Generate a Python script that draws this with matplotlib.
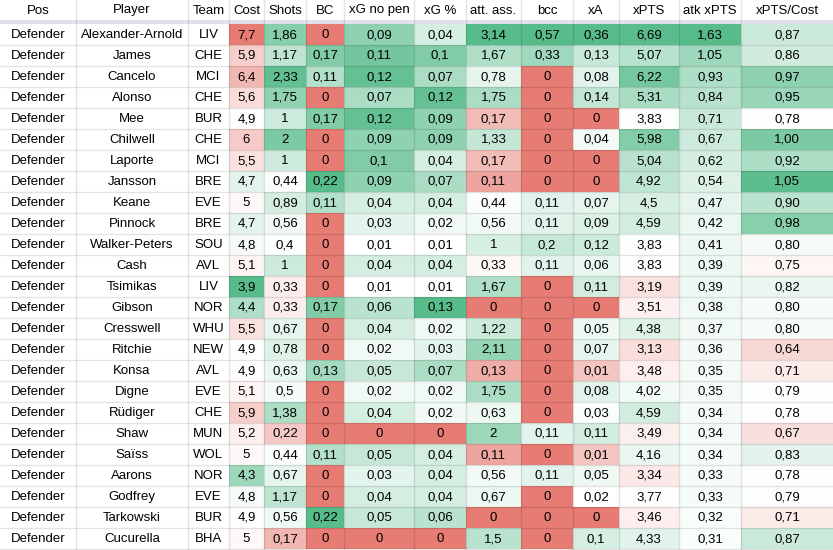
import matplotlib
matplotlib.use("Agg")
import matplotlib.pyplot as plt
from matplotlib.patches import Rectangle
import numpy as np

# ---------------- data ----------------
headers = ["Pos", "Player", "Team", "Cost", "Shots", "BC", "xG no pen", "xG %",
           "att. ass.", "bcc", "xA", "xPTS", "atk xPTS", "xPTS/Cost"]

players = ["Alexander-Arnold", "James", "Cancelo", "Alonso", "Mee", "Chilwell", "Laporte",
           "Jansson", "Keane", "Pinnock", "Walker-Peters", "Cash", "Tsimikas", "Gibson",
           "Cresswell", "Ritchie", "Konsa", "Digne", "Rüdiger", "Shaw", "Saïss", "Aarons",
           "Godfrey", "Tarkowski", "Cucurella"]
teams = ["LIV", "CHE", "MCI", "CHE", "BUR", "CHE", "MCI", "BRE", "EVE", "BRE", "SOU", "AVL",
         "LIV", "NOR", "WHU", "NEW", "AVL", "EVE", "CHE", "MUN", "WOL", "NOR", "EVE", "BUR", "BHA"]
pos = ["Defender"] * len(players)

cost = [7.7, 5.9, 6.4, 5.6, 4.9, 6, 5.5, 4.7, 5, 4.7, 4.8, 5.1, 3.9, 4.4, 5.5, 4.9, 4.9, 5.1,
        5.9, 5.2, 5, 4.3, 4.8, 4.9, 5]
shots = [1.86, 1.17, 2.33, 1.75, 1, 2, 1, 0.44, 0.89, 0.56, 0.4, 1, 0.33, 0.33, 0.67, 0.78,
         0.63, 0.5, 1.38, 0.22, 0.44, 0.67, 1.17, 0.56, 0.17]
bc = [0, 0.17, 0.11, 0, 0.17, 0, 0, 0.22, 0.11, 0, 0, 0, 0, 0.17, 0, 0, 0.13, 0, 0, 0, 0.11,
      0, 0, 0.22, 0]
xg_no_pen = [0.09, 0.11, 0.12, 0.07, 0.12, 0.09, 0.1, 0.09, 0.04, 0.03, 0.01, 0.04, 0.01, 0.06,
             0.04, 0.02, 0.05, 0.02, 0.04, 0, 0.05, 0.03, 0.04, 0.05, 0]
xg_pct = [0.04, 0.1, 0.07, 0.12, 0.09, 0.09, 0.04, 0.07, 0.04, 0.02, 0.01, 0.04, 0.01, 0.13,
          0.02, 0.03, 0.07, 0.02, 0.02, 0, 0.04, 0.04, 0.04, 0.06, 0]
att_ass = [3.14, 1.67, 0.78, 1.75, 0.17, 1.33, 0.17, 0.11, 0.44, 0.56, 1, 0.33, 1.67, 0, 1.22,
           2.11, 0.13, 1.75, 0.63, 2, 0.11, 0.56, 0.67, 0, 1.5]
bcc = [0.57, 0.33, 0, 0, 0, 0, 0, 0, 0.11, 0.11, 0.2, 0.11, 0, 0, 0, 0, 0, 0, 0, 0.11, 0, 0.11,
       0, 0, 0]
xa = [0.36, 0.13, 0.08, 0.14, 0, 0.04, 0, 0, 0.07, 0.09, 0.12, 0.06, 0.11, 0, 0.05, 0.07, 0.01,
      0.08, 0.03, 0.11, 0.01, 0.05, 0.02, 0, 0.1]
xpts = [6.69, 5.07, 6.22, 5.31, 3.83, 5.98, 5.04, 4.92, 4.5, 4.59, 3.83, 3.83, 3.19, 3.51, 4.38,
        3.13, 3.48, 4.02, 4.59, 3.49, 4.16, 3.34, 3.77, 3.46, 4.33]
atk_xpts = [1.63, 1.05, 0.93, 0.84, 0.71, 0.67, 0.62, 0.54, 0.47, 0.42, 0.41, 0.39, 0.39, 0.38,
            0.37, 0.36, 0.35, 0.35, 0.34, 0.34, 0.34, 0.33, 0.33, 0.32, 0.31]
xpts_cost = [0.87, 0.86, 0.97, 0.95, 0.78, 1.00, 0.92, 1.05, 0.90, 0.98, 0.80, 0.75, 0.82, 0.80,
             0.80, 0.64, 0.71, 0.79, 0.78, 0.67, 0.83, 0.78, 0.79, 0.71, 0.87]

numeric_cols = [cost, shots, bc, xg_no_pen, xg_pct, att_ass, bcc, xa, xpts, atk_xpts, xpts_cost]

# ---------------- styling / layout ----------------
col_widths = [76, 112, 41, 35, 42, 38, 70, 52, 55, 52, 46, 60, 62, 92]
header_h = 20
band_h = 4
row_h = 21

# colour-scale points per numeric column: (min, mid, max, reversed)
scales = [
    (3.9, 4.85, 7.7, True),     # Cost
    (0.0, 0.38, 2.45, False),   # Shots
    (0.0, 0.02, 0.22, False),   # BC
    (0.0, 0.01, 0.13, False),   # xG no pen
    (0.0, 0.01, 0.13, False),   # xG %
    (0.0, 0.35, 3.14, False),   # att. ass.
    (0.0, 0.01, 0.57, False),   # bcc
    (0.0, 0.018, 0.36, False),  # xA
    (1.1, 3.8, 6.75, False),    # xPTS
    (0.0, 0.26, 1.63, False),   # atk xPTS
    (0.30, 0.785, 1.06, False), # xPTS/Cost
]

RED = np.array([0xE6, 0x7C, 0x73]) / 255
WHITE = np.array([1.0, 1.0, 1.0])
GREEN = np.array([0x57, 0xBB, 0x8A]) / 255


def scale_color(v, lo, mid, hi, rev):
    if v <= mid:
        t = (mid - v) / (mid - lo) if mid > lo else 1.0
        t = min(max(t, 0), 1)
        end = GREEN if rev else RED
    else:
        t = (v - mid) / (hi - mid)
        t = min(max(t, 0), 1)
        end = RED if rev else GREEN
    return WHITE * (1 - t) + end * t


def fmt(v, col_idx):
    if col_idx == len(numeric_cols) - 1:
        return f"{v:.2f}".replace(".", ",")
    return f"{v:g}".replace(".", ",")


W, H = 833, 550
fig = plt.figure(figsize=(W / 100, H / 100), dpi=100)
ax = fig.add_axes([0, 0, 1, 1])
ax.set_xlim(0, W)
ax.set_ylim(H, 0)
ax.axis("off")

font = dict(family=["Liberation Sans", "DejaVu Sans"], fontsize=9.5, color="#000000")

x_edges = np.concatenate([[0], np.cumsum(col_widths)])
x_edges[-1] = W
n_rows = len(players)
top = header_h + band_h

# header
for j, h in enumerate(headers):
    xc = (x_edges[j] + x_edges[j + 1]) / 2
    ax.text(xc, header_h / 2 + 0.5, h, ha="center", va="center", **font)
ax.add_patch(Rectangle((0, header_h), W, band_h, facecolor="#DFE2E7", edgecolor="none"))

# body
for i in range(n_rows):
    y0 = top + i * row_h
    yc = y0 + row_h / 2 + 0.5
    texts = [pos[i], players[i], teams[i]]
    for j, t in enumerate(texts):
        xc = (x_edges[j] + x_edges[j + 1]) / 2
        ax.text(xc, yc, t, ha="center", va="center", **font)
    for k, col in enumerate(numeric_cols):
        j = k + 3
        lo, mid, hi, rev = scales[k]
        c = scale_color(col[i], lo, mid, hi, rev)
        ax.add_patch(Rectangle((x_edges[j], y0), x_edges[j + 1] - x_edges[j], row_h,
                               facecolor=c, edgecolor="none"))
        xc = (x_edges[j] + x_edges[j + 1]) / 2
        ax.text(xc, yc, fmt(col[i], k), ha="center", va="center", **font)

# grid lines
grid_kw = dict(color=(0, 0, 0, 0.11), linewidth=1.0)
for xe in x_edges[1:-1]:
    ax.plot([xe, xe], [0, H], **grid_kw)
for i in range(1, n_rows + 1):
    y = top + i * row_h
    ax.plot([0, W], [y, y], **grid_kw)

fig.savefig("out.png", dpi=100)
